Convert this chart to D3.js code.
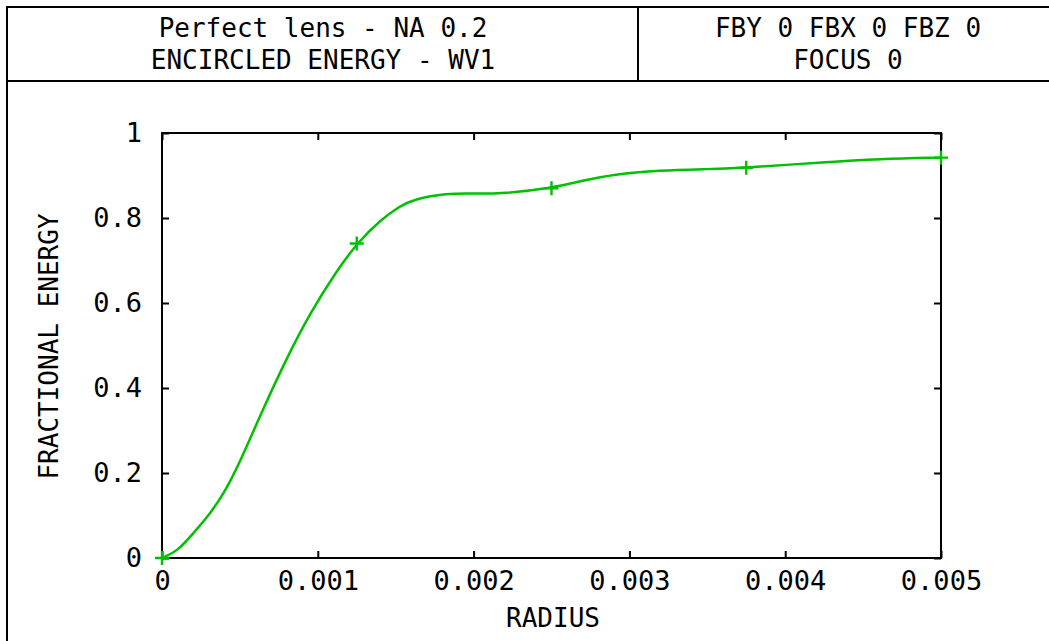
<!DOCTYPE html>
<html><head><meta charset="utf-8">
<script src="https://cdn.jsdelivr.net/npm/d3@7"></script>
<style>
html,body{margin:0;padding:0;background:#fff;}
svg text{font-family:"DejaVu Sans Mono",monospace;fill:#000;}
</style></head>
<body><svg id="c" width="1049" height="641"></svg>
<script>
// ---- data ----
const titleLeft = ["Perfect lens - NA 0.2", "ENCIRCLED ENERGY - WV1"];
const titleRight = ["FBY 0 FBX 0 FBZ 0", "FOCUS 0"];
const xLabel = "RADIUS";
const yLabel = "FRACTIONAL ENERGY";
const xTicks = [0, 0.001, 0.002, 0.003, 0.004, 0.005];
const xTickLabels = ["0", "0.001", "0.002", "0.003", "0.004", "0.005"];
const yTicks = [0, 0.2, 0.4, 0.6, 0.8, 1];
const yTickLabels = ["0", "0.2", "0.4", "0.6", "0.8", "1"];
// curve samples
const radius = [0, 0.0001, 0.0002, 0.0003, 0.0004, 0.0005, 0.00065, 0.0008, 0.00095, 0.00112, 0.00125, 0.0014, 0.001528, 0.001613, 0.001827, 0.002, 0.002148, 0.0025, 0.0027, 0.002897, 0.003196, 0.0035, 0.003753, 0.004266, 0.0046, 0.005];
const energy = [0, 0.016, 0.058, 0.1, 0.153, 0.225, 0.352, 0.47, 0.576, 0.675, 0.740, 0.795, 0.828, 0.844, 0.858, 0.858, 0.856, 0.870, 0.888, 0.903, 0.912, 0.915, 0.918, 0.932, 0.939, 0.942];
// marker points
const markRadius = [0, 0.00125, 0.0025, 0.00375, 0.005];
const markEnergy = [0, 0.740, 0.870, 0.918, 0.942];

// ---- drawing ----
const svg = d3.select("#c");
const green = "#00c000";

// frame and header
const frame = svg.append("g").attr("fill","none").attr("stroke","#000").attr("stroke-width",2);
frame.append("rect").attr("x",7).attr("y",7).attr("width",1100).attr("height",700);
frame.append("line").attr("x1",7).attr("x2",1100).attr("y1",81).attr("y2",81);
frame.append("line").attr("x1",638).attr("x2",638).attr("y1",7).attr("y2",81);

function headerText(lines, cx){
  lines.forEach((t,i)=>{
    svg.append("text").attr("x",cx).attr("y",37+i*32).attr("text-anchor","middle")
      .attr("font-size",26).text(t);
  });
}
headerText(titleLeft, 323);
headerText(titleRight, 848);

const m = {l:162, r:941, t:133, b:558};
const x = d3.scaleLinear().domain([0,0.005]).range([m.l,m.r]);
const y = d3.scaleLinear().domain([0,1]).range([m.b,m.t]);

const tl = 7;
const axisStyle = g => {
  g.select(".domain").remove();
  g.selectAll(".tick line").attr("stroke","#000").attr("stroke-width",2);
  g.selectAll(".tick text").attr("font-size",27).attr("fill","#000")
   .style("font-family","DejaVu Sans Mono, monospace");
};
// bottom
svg.append("g").attr("transform",`translate(0,${m.b})`)
  .call(d3.axisBottom(x).tickValues(xTicks).tickFormat((d,i)=>xTickLabels[i]).tickSize(-tl).tickPadding(13))
  .call(axisStyle);
// top
svg.append("g").attr("transform",`translate(0,${m.t})`)
  .call(d3.axisTop(x).tickValues(xTicks).tickFormat("").tickSize(-tl))
  .call(axisStyle);
// left
svg.append("g").attr("transform",`translate(${m.l},0)`)
  .call(d3.axisLeft(y).tickValues(yTicks).tickFormat((d,i)=>yTickLabels[i]).tickSize(-tl).tickPadding(20))
  .call(axisStyle);
// right
svg.append("g").attr("transform",`translate(${m.r},0)`)
  .call(d3.axisRight(y).tickValues(yTicks).tickFormat("").tickSize(-tl))
  .call(axisStyle);

svg.append("rect").attr("x",m.l).attr("y",m.t).attr("width",m.r-m.l).attr("height",m.b-m.t)
  .attr("fill","none").attr("stroke","#000").attr("stroke-width",2);

// axis labels
svg.append("text").attr("x",553).attr("y",627).attr("text-anchor","middle").attr("font-size",26).text(xLabel);
svg.append("text").attr("transform",`translate(58,${(m.t+m.b)/2+1}) rotate(-90)`)
  .attr("text-anchor","middle").attr("font-size",26).text(yLabel);

// curve
const pts = radius.map((r,i)=>[r,energy[i]]);
const line = d3.line().x(d=>x(d[0])).y(d=>y(d[1])).curve(d3.curveBasis);
svg.append("path").datum(pts).attr("d",line).attr("fill","none").attr("stroke",green).attr("stroke-width",2.5);

// markers
const mk = markRadius.map((r,i)=>[r,markEnergy[i]]);
svg.append("g").selectAll("path").data(mk).join("path")
  .attr("d",d=>{const cx=x(d[0]), cy=y(d[1]), s=7;return `M${cx-s},${cy}H${cx+s}M${cx},${cy-s}V${cy+s}`;})
  .attr("stroke",green).attr("stroke-width",2.4).attr("fill","none");
</script></body></html>
